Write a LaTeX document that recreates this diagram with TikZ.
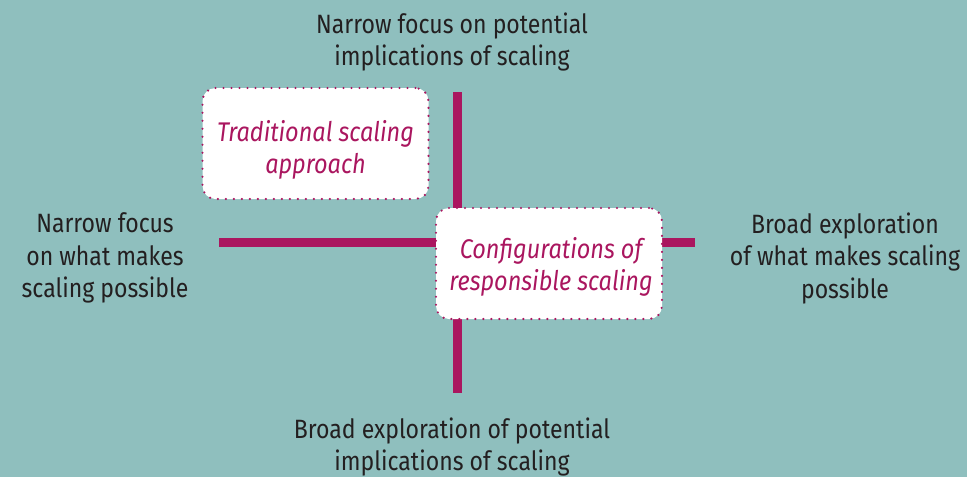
\documentclass[tikz,border=0pt]{standalone}
\usepackage{fontspec}
\setmainfont{Fira Sans}[FakeStretch=0.87]
\definecolor{bgteal}{RGB}{143,191,190}
\definecolor{mag}{RGB}{170,22,95}
\definecolor{txt}{RGB}{35,31,32}
\begin{document}
\begin{tikzpicture}[x=1pt,y=-1pt,
  axis/.style={draw=mag,line width=8.4pt,line cap=butt},
  lbl/.style={text=txt,align=center,inner sep=0pt,font=\fontsize{26.5}{32.5}\selectfont},
  quad/.style={draw=mag,fill=white,line width=2.4pt,dash pattern=on 0pt off 8pt,line cap=round,
    rounded corners=13pt,minimum width=226pt,minimum height=111pt,inner sep=0pt},
  qtext/.style={align=center,inner sep=0pt,text=mag,font=\fontsize{27}{32}\selectfont\itshape}]
\fill[bgteal] (0,0) rectangle (967,477);
\useasboundingbox (0,0) rectangle (967,477);
\coordinate (axL) at (219,242.5);
\coordinate (axR) at (695,242.5);
\coordinate (axT) at (457.5,92);
\coordinate (axB) at (457.5,393);
\draw[axis] (axL) -- (axR);
\draw[axis] (axT) -- (axB);
\node[quad] (trad) at (315.5,143.5) {};
\node[qtext] (tradt) at (315.5,149.5) {Traditional scaling\\approach};
\node[quad] (conf) at (549,263.5) {};
\node[qtext] (conft) at (551,266.5) {Configurations of\\responsible scaling};
\node[lbl] (top) at (452,42) {Narrow focus on potential\\implications of scaling};
\node[lbl] (bot) at (452,447) {Broad exploration of potential\\implications of scaling};
\node[lbl] (lft) at (105,258) {Narrow focus\\on what makes\\scaling possible};
\node[lbl] (rgt) at (845,258) {Broad exploration\\of what makes scaling\\possible};
\end{tikzpicture}
\end{document}
